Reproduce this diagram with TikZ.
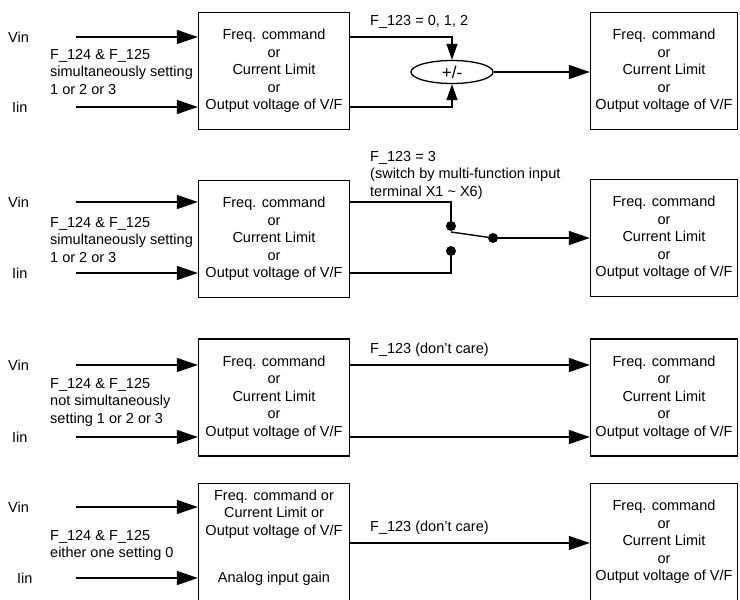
\documentclass[tikz,border=0pt]{standalone}
\usepackage{fontspec}
\setmainfont{Liberation Sans}
\usetikzlibrary{arrows.meta, shapes.geometric, positioning}

\begin{document}
\begin{tikzpicture}[
    x=1pt, y=-1pt,
    font=\fontsize{14.5}{17.5}\selectfont,
    block/.style={draw, line width=1.3pt, minimum width=151pt, minimum height=117pt, inner sep=0pt, align=center},
    lbl/.style={anchor=west, align=left, inner sep=0pt},
    wire/.style={line width=1.4pt},
    arr/.style={line width=1.4pt, -{Triangle[length=21pt, width=14pt]}},
    arrs/.style={line width=1.4pt, -{Triangle[length=16pt, width=11pt]}},
    dot/.style={circle, fill, inner sep=0pt, minimum size=10pt}
]
\useasboundingbox (0,0) rectangle (740,600);

% Row 1 (sum)
\node[lbl] (vin1) at (8,37) {Vin};
\node[lbl] (iin1) at (12,107) {Iin};
\node[lbl] (set1) at (50,72) {F\_124 \& F\_125\\simultaneously setting\\1 or 2 or 3};
\node[block] (src1) at (274,71) {Freq. command\\or\\Current Limit\\or\\Output voltage of V/F};
\node[block, minimum width=147pt] (dst1) at (664,71) {Freq. command\\or\\Current Limit\\or\\Output voltage of V/F};
\node[draw, ellipse, line width=1.3pt, minimum width=82pt, minimum height=23pt, inner sep=0pt, font=\fontsize{17}{20}\selectfont] (sum1) at (452,72) {+/-};
\node[lbl] (sel1) at (370,22) {F\_123 = 0, 1, 2};
\coordinate (v1) at (76,37);
\coordinate (i1) at (76,107);
\draw[arr] (v1) -- (v1 -| src1.west);
\draw[arr] (i1) -- (i1 -| src1.west);
\draw[arrs] (src1.east |- v1) -| (sum1.north);
\draw[arrs] (src1.east |- i1) -| (sum1.south);
\draw[arr] (sum1.east) -- (sum1.east -| dst1.west);

% Row 2 (switch)
\node[lbl] (vin2) at (8,202) {Vin};
\node[lbl] (iin2) at (12,273) {Iin};
\node[lbl] (set2) at (50,240) {F\_124 \& F\_125\\simultaneously setting\\1 or 2 or 3};
\node[block] (src2) at (274,239) {Freq. command\\or\\Current Limit\\or\\Output voltage of V/F};
\node[block, minimum width=147pt] (dst2) at (664,238) {Freq. command\\or\\Current Limit\\or\\Output voltage of V/F};
\node[lbl] (sel2) at (370,175) {F\_123 = 3\\(switch by multi-function input\\terminal X1 \textasciitilde{} X6)};
\node[dot] (up2) at (451,226) {};
\node[dot] (lo2) at (451,251) {};
\node[dot] (out2) at (493,238) {};
\coordinate (v2) at (76,202);
\coordinate (i2) at (76,273);
\draw[arr] (v2) -- (v2 -| src2.west);
\draw[arr] (i2) -- (i2 -| src2.west);
\draw[wire] (src2.east |- v2) -| (up2);
\draw[wire] (src2.east |- i2) -| (lo2);
\draw[wire] ([yshift=-6pt]up2.center) -- (out2);
\draw[arr] (out2) -- (out2 -| dst2.west);

% Row 3 (don't care)
\node[lbl] (vin3) at (8,365) {Vin};
\node[lbl] (iin3) at (12,437) {Iin};
\node[lbl] (set3) at (50,402) {F\_124 \& F\_125\\not simultaneously\\setting 1 or 2 or 3};
\node[block] (src3) at (274,397.5) {Freq. command\\or\\Current Limit\\or\\Output voltage of V/F};
\node[block, minimum width=147pt] (dst3) at (664,397.5) {Freq. command\\or\\Current Limit\\or\\Output voltage of V/F};
\node[lbl] (sel3) at (370,350) {F\_123 (don’t care)};
\coordinate (v3) at (76,365);
\coordinate (i3) at (76,437);
\draw[arr] (v3) -- (v3 -| src3.west);
\draw[arr] (i3) -- (i3 -| src3.west);
\draw[arr] (src3.east |- v3) -- (v3 -| dst3.west);
\draw[arr] (src3.east |- i3) -- (i3 -| dst3.west);

% Row 4 (gain)
\node[lbl] (vin4) at (8,507) {Vin};
\node[lbl] (iin4) at (17,578) {Iin};
\node[lbl] (set4) at (50,545.5) {F\_124 \& F\_125\\either one setting 0};
\node[block] (src4) at (274,542) {};
\node[align=center, inner sep=0pt] (cmd4) at (274,514) {Freq. command or\\Current Limit or\\Output voltage of V/F};
\node[inner sep=0pt] (gain4) at (274,579) {Analog input gain};
\node[block, minimum width=147pt] (dst4) at (664,542) {Freq. command\\or\\Current Limit\\or\\Output voltage of V/F};
\node[lbl] (sel4) at (370,528) {F\_123 (don’t care)};
\coordinate (v4) at (76,507);
\coordinate (i4) at (76,578);
\coordinate (o4) at (350,543);
\draw[arr] (v4) -- (v4 -| src4.west);
\draw[arr] (i4) -- (i4 -| src4.west);
\draw[arr] (src4.east |- o4) -- (o4 -| dst4.west);

\end{tikzpicture}
\end{document}
